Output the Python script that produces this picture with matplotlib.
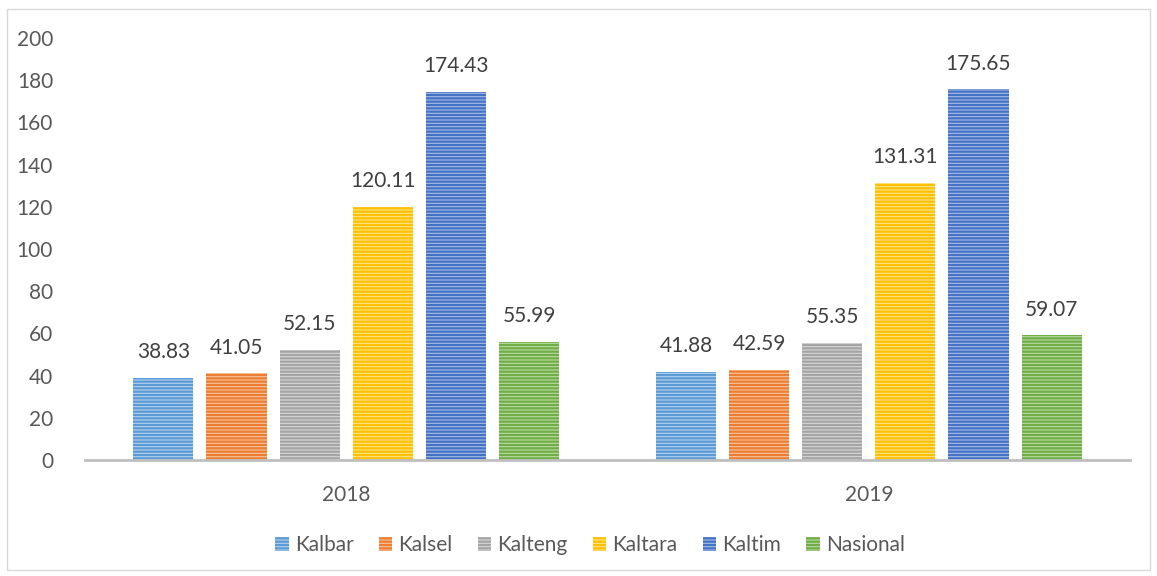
import matplotlib.pyplot as plt
import numpy as np
from matplotlib.patches import Rectangle, Patch

plt.rcParams['font.family'] = ['Lato', 'DejaVu Sans']
plt.rcParams['hatch.linewidth'] = 1.6

years = ['2018', '2019']
series = ['Kalbar', 'Kalsel', 'Kalteng', 'Kaltara', 'Kaltim', 'Nasional']
values = {
    'Kalbar': [38.83, 41.88],
    'Kalsel': [41.05, 42.59],
    'Kalteng': [52.15, 55.35],
    'Kaltara': [120.11, 131.31],
    'Kaltim': [174.43, 175.65],
    'Nasional': [55.99, 59.07],
}
colors = ['#5B9BD5', '#ED7D31', '#A5A5A5', '#FFC000', '#4472C4', '#70AD47']
light = ['#B4D0EE', '#F6C3A0', '#D6D6D6', '#FFE38A', '#A5BCE6', '#B8DBA2']
yticks = [0, 20, 40, 60, 80, 100, 120, 140, 160, 180, 200]

fig = plt.figure(figsize=(11.57, 5.76), dpi=100)
fig.patches.append(Rectangle((7/1157, 6/576), 1143/1157, 561/576, transform=fig.transFigure,
                             fill=False, edgecolor='#D9D9D9', linewidth=1))
ax = fig.add_axes([85/1157, 116/576, 1045/1157, 422/576])

x = np.arange(len(years))
step = 0.14
width = 0.115
handles = []
for i, s in enumerate(series):
    pos = x + (i - 2.5) * step
    ax.bar(pos, values[s], width, color=light[i], edgecolor=colors[i],
           hatch='-----', linewidth=0)
    for p, v in zip(pos, values[s]):
        ax.text(p, v + 7.5, f'{v:.2f}', ha='center', va='bottom', fontsize=15, color='#404040')
    handles.append(Patch(facecolor=light[i], edgecolor=colors[i], hatch='-----', linewidth=0, label=s))

ax.set_xlim(-0.5, 1.5)
ax.set_ylim(0, 200)
ax.set_yticks(yticks)
ax.set_yticklabels([str(t) for t in yticks], fontsize=15, color='#595959')
ax.set_xticks(x)
ax.set_xticklabels(years, fontsize=15, color='#595959')
ax.tick_params(axis='both', length=0)
ax.tick_params(axis='y', pad=23)
ax.tick_params(axis='x', pad=18)
for sp in ['top', 'right', 'left']:
    ax.spines[sp].set_visible(False)
ax.spines['bottom'].set_color('#BFBFBF')
ax.spines['bottom'].set_linewidth(2)

fig.legend(handles=handles, loc='center', bbox_to_anchor=(590/1157, 1 - 545/576), ncol=6,
           frameon=False, fontsize=15, handlelength=0.65, handleheight=0.65, handletextpad=0.3,
           columnspacing=1.2, labelcolor='#595959')

fig.savefig('out.png', dpi=100)
